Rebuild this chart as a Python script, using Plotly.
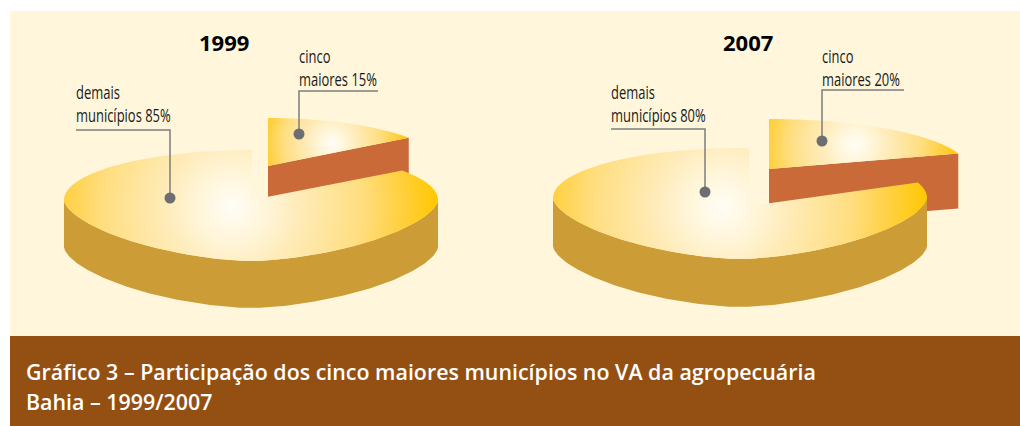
import numpy as np
import plotly.graph_objects as go

# ---- data ----
years = ["1999", "2007"]
top_five_share = [15, 20]
other_share = [85, 80]
top_five_labels = ["cinco<br>maiores", "cinco<br>maiores"]
other_labels = ["demais<br>municípios", "demais<br>municípios"]
footer_lines = [
    "Gráfico 3 – Participação dos cinco maiores municípios no VA da agropecuária",
    "Bahia – 1999/2007",
]

# ---- layout constants (page pixels) ----
W, H = 1020, 426
CREAM, BROWN = "#FFF6DC", "#945013"
WALL, WEDGE_WALL = "#CC9C36", "#C96A38"
LEADER, DOT = "#7D7D7D", "#6D6E71"
GRAD = [[0, "#FFFDF6"], [0.15, "#FFF6DC"], [0.33, "#FEEBB8"], [0.63, "#FFDE80"], [0.82, "#FFD040"], [1, "#FFC800"]]

pies = [
    dict(cx=251, cy=200, rx=187, ry_top=50, ry_bot=61, depth=47, apex=(251, 200), gap=0.3,
         grad=(232, 207, 206),
         wedge=dict(apex=(268, 166), rx=174, ry=48, depth=47, grad=(332, 143, 78)),
         title=(224, 42),
         t_lead=[(299, 134), (299, 91), (378, 91)], o_lead=[(170, 198), (170, 130), (76, 130)],
         t_txt=(299, 56), o_txt=(76, 92)),
    dict(cx=740, cy=198, rx=187, ry_top=50, ry_bot=61, depth=48, apex=(749, 206), gap=2.76,
         grad=(722, 207, 206),
         wedge=dict(apex=(769, 169), rx=199, ry=50, depth=55, grad=(855, 145, 105)),
         title=(748, 42),
         t_lead=[(822, 141), (822, 90), (904, 90)], o_lead=[(705, 192), (705, 129), (611, 129)],
         t_txt=(822, 56), o_txt=(611, 92)),
]


def rim(theta, p):
    """Rim point of the flattened disc; theta in degrees clockwise from the top."""
    t = np.radians(theta)
    s, c = np.sin(t), np.cos(t)
    e = 2 / 1.65
    low = c < 0
    x = np.where(low, np.sign(s) * np.abs(s) ** e, s) * p["rx"] + p["cx"]
    y = np.where(low, p["cy"] + p["ry_bot"] * np.abs(c) ** e, p["cy"] - p["ry_top"] * c)
    return x, y


def grad_trace(xs, ys, grad):
    """Polygon with a circular gradient: two zero-area spikes make its box a square."""
    gx, gy, r = grad
    x0, y0 = xs[0], ys[0]
    x = list(xs) + [x0, gx - r, x0, gx + r, x0]
    y = list(ys) + [y0, gy - r, y0, gy + r, y0]
    return go.Scatter(x=x, y=y, mode="lines", fill="toself", line=dict(width=0, simplify=False),
                      fillgradient=dict(type="radial", colorscale=GRAD),
                      hoverinfo="skip", showlegend=False)


def solid_trace(xs, ys, color):
    return go.Scatter(x=xs, y=ys, mode="lines", fill="toself", fillcolor=color,
                      line=dict(width=0), hoverinfo="skip", showlegend=False)


fig = go.Figure()
annotations = []
for i, p in enumerate(pies):
    cut = top_five_share[i] / (top_five_share[i] + other_share[i]) * 360
    w = p["wedge"]
    # detached slice
    t = np.linspace(0, cut, 60)
    wx = w["apex"][0] + w["rx"] * np.sin(np.radians(t))
    wy = w["apex"][1] - w["ry"] * np.cos(np.radians(t))
    ex, ey = wx[-1], wy[-1]
    ax, ay = w["apex"]
    fig.add_trace(solid_trace([ax, ex, ex, ax, ax], [ay, ey, ey + w["depth"], ay + w["depth"], ay], WEDGE_WALL))
    fig.add_trace(grad_trace(np.r_[ax, wx], np.r_[ay, wy], w["grad"]))
    # main disc wall
    t = np.linspace(90, 270, 180)
    bx, by = rim(t, p)
    fig.add_trace(solid_trace(np.r_[bx, bx[::-1]], np.r_[by, (by + p["depth"])[::-1]], WALL))
    # main slice top
    t = np.linspace(cut, 360 + p["gap"], 400)
    mx, my = rim(t, p)
    fig.add_trace(grad_trace(np.r_[p["apex"][0], mx], np.r_[p["apex"][1], my], p["grad"]))
    # leaders
    for lead in (p["t_lead"], p["o_lead"]):
        fig.add_trace(go.Scatter(x=[q[0] for q in lead], y=[q[1] for q in lead], mode="lines",
                                 line=dict(color=LEADER, width=1.5), hoverinfo="skip", showlegend=False))
        fig.add_trace(go.Scatter(x=[lead[0][0]], y=[lead[0][1]], mode="markers",
                                 marker=dict(color=DOT, size=11), hoverinfo="skip", showlegend=False))
    # texts
    annotations.append(dict(x=p["title"][0], y=p["title"][1], text=f"<b>{years[i]}</b>", showarrow=False,
                            font=dict(family="Open Sans", size=22, color="#000000")))
    for label, val, pos in ((top_five_labels[i], top_five_share[i], p["t_txt"]),
                            (other_labels[i], other_share[i], p["o_txt"])):
        a, b = label.split("<br>")
        for j, line in enumerate((a, f"{b} {val}%")):
            annotations.append(dict(x=pos[0], y=pos[1] + 23 * j, text=line, showarrow=False,
                                    xanchor="left", yanchor="middle", xshift=-2,
                                    font=dict(family="Open Sans", size=18, color="#1A1A1A")))

for j, line in enumerate(footer_lines):
    annotations.append(dict(x=26, y=371 + 30 * j, text=line, showarrow=False, xanchor="left", yanchor="middle", xshift=-2,
                            font=dict(family="Open Sans", size=21.4, color="#FFFFFF", weight=600)))

fig.update_layout(
    width=W, height=H, margin=dict(l=0, r=0, t=0, b=0), showlegend=False,
    paper_bgcolor="white", plot_bgcolor="white",
    xaxis=dict(range=[0, W], visible=False, fixedrange=True),
    yaxis=dict(range=[H, 0], visible=False, fixedrange=True),
    shapes=[
        dict(type="rect", x0=10, x1=W, y0=11, y1=336, fillcolor=CREAM, line_width=0, layer="below"),
        dict(type="rect", x0=10, x1=W, y0=336, y1=426, fillcolor=BROWN, line_width=0, layer="below"),
    ],
    annotations=annotations,
)
# page margin off; the pointer labels are set in a condensed cut, as in the original
POST = """
document.body.style.margin='0';
document.documentElement.style.overflow='hidden';
document.querySelectorAll('.annotation-text').forEach(function(t){
  if(parseFloat(t.style.fontSize)!==18) return;
  var k=0.72, L=t.getComputedTextLength();
  t.setAttribute('textLength', L*k);
  t.setAttribute('lengthAdjust','spacingAndGlyphs');
  t.setAttribute('x', parseFloat(t.getAttribute('x'))-L*(1-k)/2);
});
"""
fig.write_html("out.html", config=dict(displayModeBar=False), post_script=POST)
